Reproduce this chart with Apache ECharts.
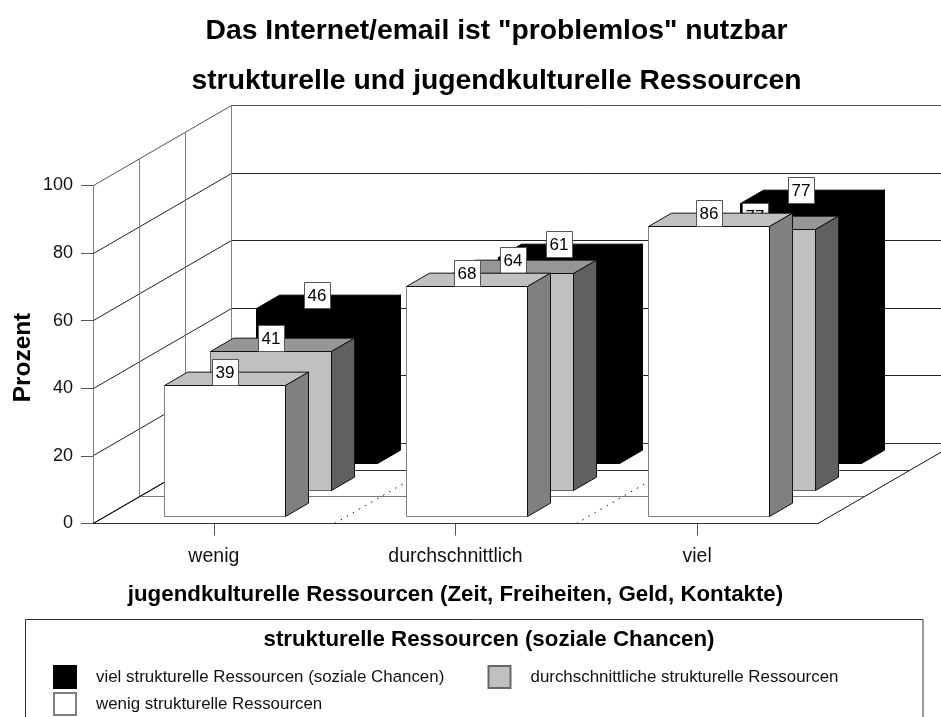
<!DOCTYPE html>
<html><head><meta charset="utf-8">
<style>html,body{margin:0;padding:0;background:#fff;overflow:hidden}#c{width:941px;height:717px}</style>
<script src="https://cdn.jsdelivr.net/npm/echarts@6/dist/echarts.min.js"></script>
</head><body><div id="c"></div>
<script>
const categories = ['wenig', 'durchschnittlich', 'viel'];
const yTicks = [0, 20, 40, 60, 80, 100];
const seriesNames = ['viel strukturelle Ressourcen (soziale Chancen)', 'durchschnittliche strukturelle Ressourcen', 'wenig strukturelle Ressourcen'];
const valuesViel = [46, 61, 77];
const valuesMittel = [41, 64, 77];
const valuesWenig = [39, 68, 86];
const titleText = 'Das Internet/email ist "problemlos" nutzbar\nstrukturelle und jugendkulturelle Ressourcen';
const xName = 'jugendkulturelle Ressourcen (Zeit, Freiheiten, Geld, Kontakte)';
const yName = 'Prozent';
const legendTitle = 'strukturelle Ressourcen (soziale Chancen)';

const FONT = '"Liberation Sans", Arial, sans-serif';
const DX = 138, DY = -80, ROWS = 3;
const crisp = v => Math.round(v - 0.5) + 0.5;
const line = (pts, stroke, extra) => ({
  type: 'polyline', shape: { points: pts }, silent: true,
  style: Object.assign({ stroke, lineWidth: 1, fill: 'none' }, extra || {})
});

function renderGrid(params, api) {
  const cs = params.coordSys, v = api.value(1);
  const y = crisp(api.coord([0, v])[1]), x0 = crisp(cs.x), x1 = cs.x + cs.width;
  return line([[x0, y], [x0 + DX, crisp(y + DY)], [x1 + DX, crisp(y + DY)]], v === 100 ? '#555' : '#222');
}
function renderRow(params, api) {
  const cs = params.coordSys, r = api.value(0) / ROWS;
  const b = cs.y + cs.height, x0 = crisp(cs.x + DX * r), y0 = crisp(b + DY * r);
  const kids = [];
  kids.push(line([[x0, y0], [cs.x + cs.width + DX * r, y0]], api.value(0) === 1 ? '#777' : '#333'));
  if (api.value(0) > 0) kids.push(line([[x0, y0], [x0, crisp(cs.y + DY * r)]], '#808080'));
  return { type: 'group', children: kids };
}
function renderEdge(params, api) {
  const cs = params.coordSys, b = crisp(cs.y + cs.height);
  const x = cs.x + api.value(0) * cs.width / categories.length;
  const isOuter = api.value(0) === 0 || api.value(0) === categories.length;
  return line([[x, b], [x + DX, b + DY]], '#111', isOuter ? {} : { lineDash: [1.5, 5.5] });
}
function barRenderer(row, f) {
  return function (params, api) {
    const i = api.value(0), val = api.value(1);
    const base = api.coord([i, 0]), top = api.coord([i, val]);
    const band = api.size([1, 0])[0], w = band / 2;
    const rx = DX / ROWS, ry = DY / ROWS;
    const x0 = crisp(base[0] - w / 2 + (row + 0.25) * rx), x1 = crisp(x0 + w);
    const yb = crisp(base[1] + (row + 0.25) * ry), yt = crisp(top[1] + (row + 0.25) * ry);
    const dx = rx / 2, dy = ry / 2;
    const cx = (x0 + x1) / 2, lab = 26;
    const poly = (pts, fill) => ({ type: 'polygon', shape: { points: pts }, style: { fill, stroke: f.edge, lineWidth: 1 } });
    return {
      type: 'group',
      children: [
        poly([[x0, yt], [x1, yt], [x1 + dx, yt + dy], [x0 + dx, yt + dy]], f.top),
        poly([[x1, yt], [x1 + dx, yt + dy], [x1 + dx, yb + dy], [x1, yb]], f.side),
        { type: 'rect', shape: { x: x0, y: yt, width: x1 - x0, height: yb - yt }, style: { fill: f.face, stroke: f.faceEdge, lineWidth: 1 } },
        line([[x0, yt], [x1, yt], [x1, yb]], f.edge),
        { type: 'rect', shape: { x: crisp(cx - lab / 2), y: yt - lab, width: lab, height: lab }, style: { fill: '#fff', stroke: '#555', lineWidth: 1 } },
        { type: 'text', style: { x: cx, y: yt - lab / 2 + 0.5, text: String(val), fill: '#000', font: '17px ' + FONT, align: 'center', verticalAlign: 'middle' } }
      ]
    };
  };
}
const faces = [
  { face: '#000000', top: '#000000', side: '#000000', edge: '#000000', faceEdge: '#000000' },
  { face: '#c0c0c0', top: '#969696', side: '#606060', edge: '#111111', faceEdge: '#666666' },
  { face: '#ffffff', top: '#c0c0c0', side: '#808080', edge: '#111111', faceEdge: '#808080' }
];
const seriesValues = [valuesViel, valuesMittel, valuesWenig];

const chart = echarts.init(document.getElementById('c'), null, { renderer: 'canvas' });
const helper = (name, data, renderItem, z) => ({
  type: 'custom', name, data, renderItem, z, silent: true, clip: false,
  coordinateSystem: 'cartesian2d', encode: { x: 0, y: 1 }, tooltip: { show: false }
});
chart.setOption({
  animation: false,
  backgroundColor: '#fff',
  title: [
    { text: titleText, left: 496.5, top: 6, textAlign: 'center', padding: 0,
      textStyle: { fontFamily: FONT, fontSize: 28.3, fontWeight: 'bold', color: '#000', lineHeight: 50 } },
    { text: legendTitle, left: 489, top: 629, textAlign: 'center', padding: 0,
      textStyle: { fontFamily: FONT, fontSize: 22.3, fontWeight: 'bold', color: '#000' } }
  ],
  grid: { left: 93, top: 185.5, width: 725, height: 338, outerBoundsMode: 'none' },
  xAxis: {
    type: 'category', data: categories,
    name: xName, nameLocation: 'middle', nameGap: 60,
    nameTextStyle: { fontFamily: FONT, fontSize: 22.3, fontWeight: 'bold', color: '#000' },
    axisLine: { show: true, lineStyle: { color: '#111', width: 1 } },
    axisTick: { show: true, alignWithLabel: true, length: 12, lineStyle: { color: '#555' } },
    axisLabel: { fontFamily: FONT, fontSize: 19.5, color: '#111', margin: 23 },
    splitLine: { show: false }
  },
  yAxis: {
    type: 'value', min: 0, max: 100, interval: 20,
    name: yName, nameLocation: 'middle', nameGap: 58, nameMoveOverlap: false,
    nameTextStyle: { fontFamily: FONT, fontSize: 24.4, fontWeight: 'bold', color: '#000', padding: [0, 6, 0, 0] },
    axisLine: { show: true, lineStyle: { color: '#808080', width: 1 } },
    axisTick: { show: true, length: 12, lineStyle: { color: '#555' } },
    axisLabel: { fontFamily: FONT, fontSize: 18, color: '#111', margin: 20 },
    splitLine: { show: false }
  },
  legend: [
    { data: [seriesNames[0]], left: 53, top: 665 },
    { data: [seriesNames[1]], left: 487.5, top: 665 },
    { data: [seriesNames[2]], left: 53, top: 692 }
  ].map(l => Object.assign(l, {
    padding: 0, itemWidth: 22, itemHeight: 22, icon: 'rect', selectedMode: false,
    textStyle: { fontFamily: FONT, fontSize: 16.9, color: '#111', padding: [0, 0, 0, 15] }
  })),
  graphic: [{
    type: 'rect', z: 0, silent: true,
    shape: { x: 25.5, y: 619.5, width: 897.5, height: 140 },
    style: { fill: '#fff', stroke: '#333', lineWidth: 1 }
  }],
  series: [
    helper('walls', yTicks.map(v => [0, v]), renderGrid, 1),
    helper('rows', [0, 1, 2, 3].map(r => [r, 0]), renderRow, 1),
    helper('edges', [0, 1, 2, 3].map(e => [e, 0]), renderEdge, 1)
  ].concat(seriesNames.map((name, idx) => ({
    type: 'custom', name, coordinateSystem: 'cartesian2d', z: 3 + idx, clip: false,
    itemStyle: { color: faces[idx].face, borderColor: faces[idx].faceEdge, borderWidth: 1 },
    encode: { x: 0, y: 1 },
    data: seriesValues[idx].map((v, i) => [i, v]),
    renderItem: barRenderer(ROWS - 1 - idx, faces[idx])
  })))
});
</script></body></html>
